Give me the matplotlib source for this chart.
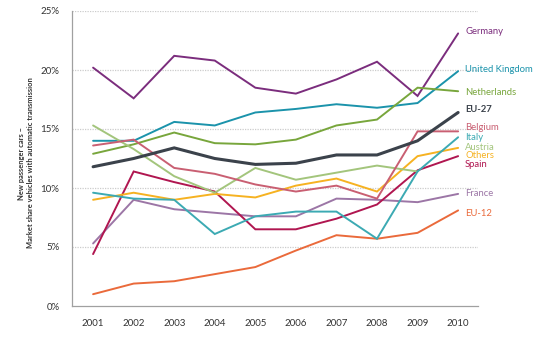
import numpy as np
import matplotlib
matplotlib.use("Agg")
import matplotlib.pyplot as plt

plt.rcParams['font.family'] = ['Lato', 'DejaVu Sans']

years = [2001, 2002, 2003, 2004, 2005, 2006, 2007, 2008, 2009, 2010]

germany     = [20.2, 17.6, 21.2, 20.8, 18.5, 18.0, 19.2, 20.7, 17.8, 23.1]
uk          = [14.0, 14.0, 15.6, 15.3, 16.4, 16.7, 17.1, 16.8, 17.2, 19.9]
netherlands = [12.9, 13.7, 14.7, 13.8, 13.7, 14.1, 15.3, 15.8, 18.5, 18.2]
eu27        = [11.8, 12.5, 13.4, 12.5, 12.0, 12.1, 12.8, 12.8, 14.0, 16.4]
belgium     = [13.6, 14.1, 11.7, 11.2, 10.3, 9.7, 10.2, 9.1, 14.8, 14.8]
italy       = [9.6, 9.1, 9.0, 6.1, 7.6, 8.0, 8.0, 5.7, 11.4, 14.3]
austria     = [15.3, 13.3, 11.0, 9.6, 11.7, 10.7, 11.3, 11.9, 11.4, np.nan]
others      = [9.0, 9.6, 9.0, 9.5, 9.2, 10.2, 10.8, 9.7, 12.7, 13.4]
spain       = [4.4, 11.4, 10.5, 9.7, 6.5, 6.5, 7.4, 8.6, 11.5, 12.7]
france      = [5.3, 9.0, 8.2, 7.9, 7.6, 7.6, 9.1, 9.0, 8.8, 9.5]
eu12        = [1.0, 1.9, 2.1, 2.7, 3.3, 4.7, 6.0, 5.7, 6.2, 8.1]

y_ticks = [0, 5, 10, 15, 20, 25]
y_labels = ['0%', '5%', '10%', '15%', '20%', '25%']

series = [
    ('Germany', germany, '#7b2d7d', 1.4, 32),
    ('United Kingdom', uk, '#1b93ab', 1.4, 69),
    ('Netherlands', netherlands, '#78a63c', 1.4, 92),
    ('EU-12', eu12, '#ea6a3b', 1.4, 213),
    ('France', france, '#9c76a6', 1.4, 193),
    ('Spain', spain, '#b01650', 1.4, 165),
    ('Others', others, '#f6b221', 1.4, 156),
    ('Austria', austria, '#a3c57c', 1.4, 147),
    ('Italy', italy, '#3caab3', 1.4, 137),
    ('Belgium', belgium, '#c95f72', 1.4, 128),
    ('EU-27', eu27, '#3b424b', 2.2, 110),
]

fig = plt.figure(figsize=(5.5, 3.38), dpi=100)
ax = fig.add_axes([72/550, 1 - 306/338, (478-72)/550, (306-11)/338])

for name, vals, col, lw, ly in series:
    ax.plot(years, vals, color=col, lw=lw, solid_capstyle='round', solid_joinstyle='miter', zorder=3)
    fig.text(465/550, 1 - ly/338, name, color=col, fontsize=6.8,
             fontweight='bold' if name == 'EU-27' else 'normal', va='center', ha='left')

ax.set_xlim(2000.48, 2010.49)
ax.set_ylim(0, 25)
ax.set_xticks(years)
ax.set_xticklabels([str(y) for y in years], fontsize=7, color='#333333')
ax.set_yticks(y_ticks)
ax.set_yticklabels(y_labels, fontsize=7, color='#333333')
ax.tick_params(length=0, pad=9)
ax.tick_params(axis='y', pad=9)
for yv in y_ticks[1:]:
    ax.axhline(yv, color='#cccccc', lw=0.9, ls=(0, (1, 1)), zorder=1)
for s in ['top', 'right']:
    ax.spines[s].set_visible(False)
for s in ['left', 'bottom']:
    ax.spines[s].set_color('#a0a0a0')
    ax.spines[s].set_linewidth(0.9)

fig.text(26/550, 1 - 163/338, 'New passenger cars –\nMarket share vehicles with automatic transmission',
         rotation=90, ha='center', va='center', fontsize=5.4, fontweight='bold',
         color='#333333', linespacing=1.25, multialignment='center')

fig.savefig('out.png', dpi=100)
